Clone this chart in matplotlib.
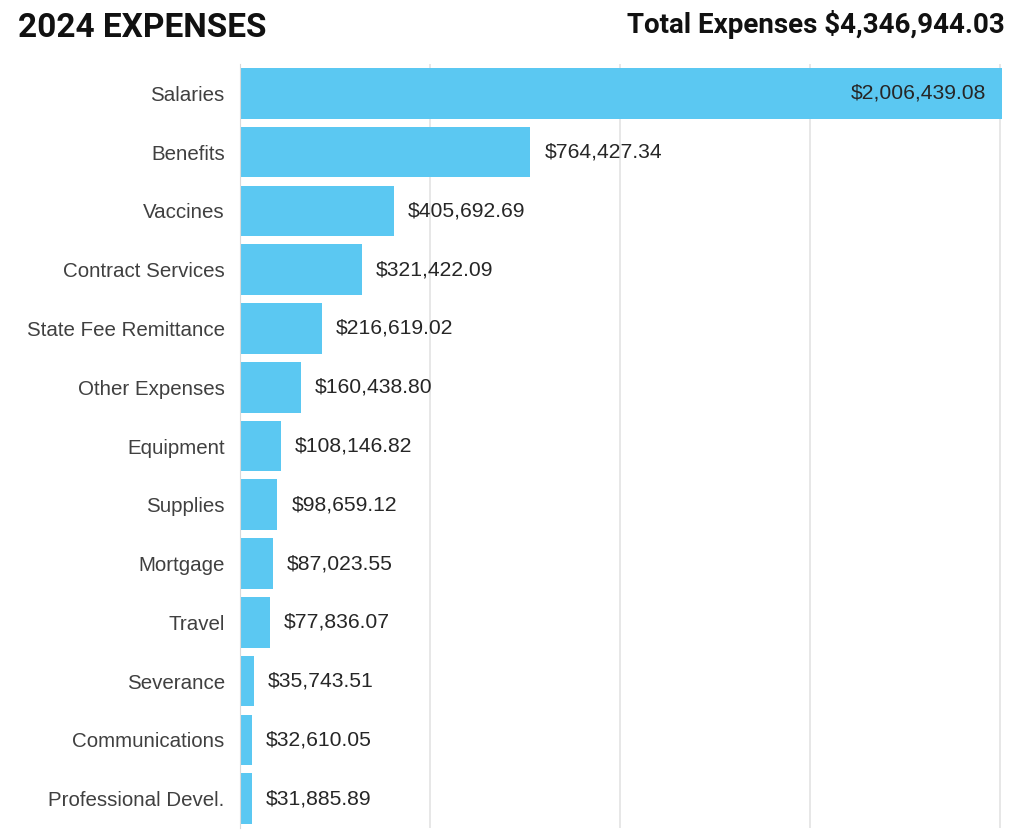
import matplotlib.pyplot as plt

categories = ["Salaries", "Benefits", "Vaccines", "Contract Services",
              "State Fee Remittance", "Other Expenses", "Equipment", "Supplies",
              "Mortgage", "Travel", "Severance", "Communications",
              "Professional Devel."]
values = [2006439.08, 764427.34, 405692.69, 321422.09, 216619.02, 160438.80,
          108146.82, 98659.12, 87023.55, 77836.07, 35743.51, 32610.05, 31885.89]
total = 4346944.03

bar_color = "#5BC8F2"

fig = plt.figure(figsize=(10.23, 8.31), dpi=100)
ax = fig.add_axes([240 / 1023, 1 - 828 / 831, 763 / 1023, 764 / 831])

ypos = list(range(len(categories)))
ax.barh(ypos, values, height=0.86, color=bar_color, zorder=2)
ax.set_ylim(len(categories) - 0.5, -0.5)
ax.set_xlim(0, 2.008e6)

ax.set_yticks(ypos)
ax.set_yticklabels(categories, fontsize=14.8, color="#404040",
                   family="Liberation Sans")
ax.tick_params(axis="y", length=0, pad=11)
ax.set_xticks([0, 500000, 1000000, 1500000, 2000000])
ax.tick_params(axis="x", length=0, labelbottom=False)
ax.grid(axis="x", color="#e3e3e3", linewidth=1.2, zorder=0)

for s in ["top", "right", "bottom"]:
    ax.spines[s].set_visible(False)
ax.spines["left"].set_color("#d9d9d9")

for i, v in enumerate(values):
    txt = f"${v:,.2f}"
    if i == 0:
        ax.annotate(txt, (v, i), xytext=(-12, 0), textcoords="offset points",
                    ha="right", va="center", fontsize=15.2, color="#262626",
                    family="Liberation Sans")
    else:
        ax.annotate(txt, (v, i), xytext=(10, 0), textcoords="offset points",
                    ha="left", va="center", fontsize=15.2, color="#262626",
                    family="Liberation Sans")

fig.text(18 / 1023, 1 - 37 / 831, "2024 EXPENSES", fontsize=24,
         fontweight="bold", family="Roboto", color="#111111", va="baseline")
fig.text(1005 / 1023, 1 - 33 / 831, f"Total Expenses ${total:,.2f}",
         fontsize=20, fontweight="bold", family="Roboto", color="#111111",
         ha="right", va="baseline")

fig.savefig("out.png", dpi=100)
